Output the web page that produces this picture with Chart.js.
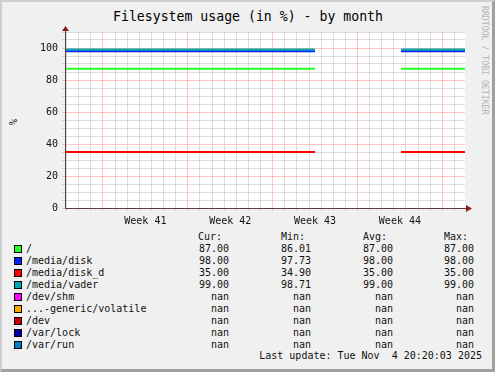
<!DOCTYPE html>
<html>
<head>
<meta charset="utf-8">
<script src="https://cdn.jsdelivr.net/npm/chart.js@4"></script>
<style>
  html, body { margin: 0; padding: 0; background: #f0f0f0; }
  #stage { position: absolute; left: 0; top: 0; width: 495px; height: 372px; overflow: hidden; }
  #frame { position: absolute; left: 0; top: 0; width: 495px; height: 372px; box-sizing: border-box;
           border-left: 2px solid #cfcfcf; border-top: 2px solid #cfcfcf;
           border-right: 3px solid #a0a0a0; border-bottom: 3px solid #a0a0a0; }
  #chartBox { position: absolute; left: 0; top: 0; width: 495px; height: 230px; }
  .t { position: absolute; font-family: "DejaVu Sans Mono", monospace; font-size: 10px; line-height: 12px;
       color: #111; white-space: pre; }
  .r { text-align: right; }
  .sw { position: absolute; width: 6px; height: 6px; border: 1px solid #000; }
  #title { position: absolute; left: 0; width: 496px; top: 9px; text-align: center;
           font-family: "DejaVu Sans Mono", monospace; font-size: 13.2px; line-height: 16px; color: #000; }
  #vendor { position: absolute; left: 485px; top: 6px; transform-origin: 0 0; transform: rotate(90deg) translate(0, -4px);
            font-family: "DejaVu Sans Mono", monospace; font-size: 8.2px; line-height: 8px; color: #b4b4b4; white-space: pre; }
  #unit { position: absolute; left: 9px; top: 125px; transform-origin: 0 0; transform: rotate(-90deg);
          font-family: "DejaVu Sans Mono", monospace; font-size: 10px; line-height: 10px; color: #111; }
</style>
</head>
<body>
<div id="stage">
  <div id="frame"></div>
  <div id="title">Filesystem usage (in %) - by month</div>
  <div id="vendor">RRDTOOL / TOBI OETIKER</div>
  <div id="unit">%</div>
  <div id="chartBox"><canvas id="fsChart" width="495" height="230"></canvas></div>
  <div id="legend"></div>
</div>
<script>
// x positions in days from the left edge of the graph
const dayPoints = [0, 20.63, 24, 27.72, 33];
const rootPct = [87, 87, null, 87, 87];
const mediaDiskPct = [98, 98, null, 98, 98];
const mediaDiskDPct = [35, 35, null, 35, 35];
const mediaVaderPct = [99, 99, null, 99, 99];
const emptyPct = [null, null, null, null, null];

const weekLabels = ['Week 41', 'Week 42', 'Week 43', 'Week 44'];
const weekCenters = [6.63, 13.63, 20.63, 27.63];
const firstWeekStart = 3.13;

const seriesNames = ['/', '/media/disk', '/media/disk_d', '/media/vader', '/dev/shm',
                     '...-generic/volatile', '/dev', '/var/lock', '/var/run'];
const seriesColors = ['#22ff22', '#0022ff', '#ff0000', '#00aaaa', '#ff00ff',
                      '#ffa500', '#cc0000', '#0000aa', '#0080c0'];
const seriesData = [rootPct, mediaDiskPct, mediaDiskDPct, mediaVaderPct,
                    emptyPct, emptyPct, emptyPct, emptyPct, emptyPct];
const curVals = [87.00, 98.00, 35.00, 99.00, NaN, NaN, NaN, NaN, NaN];
const minVals = [86.01, 97.73, 34.90, 98.71, NaN, NaN, NaN, NaN, NaN];
const avgVals = [87.00, 98.00, 35.00, 99.00, NaN, NaN, NaN, NaN, NaN];
const maxVals = [87.00, 98.00, 35.00, 99.00, NaN, NaN, NaN, NaN, NaN];
const lastUpdate = 'Last update: Tue Nov  4 20:20:03 2025';

const axisColor = '#5a3c3c';
const arrowColor = '#8b1a1a';
const majorGrid = 'rgba(255, 100, 100, 0.38)';
const minorGrid = 'rgba(150, 150, 150, 0.32)';
const monoFont = { family: 'DejaVu Sans Mono', size: 10 };

// draw the axis extensions and arrow heads
const axisArrows = {
    id: 'axisArrows',
    afterDraw(chart) {
        const ctx = chart.ctx;
        const a = chart.chartArea;
        ctx.save();
        ctx.strokeStyle = axisColor;
        ctx.lineWidth = 1;
        ctx.beginPath();
        ctx.moveTo(a.left, a.bottom + 0.5);
        ctx.lineTo(a.right + 2, a.bottom + 0.5);
        ctx.moveTo(a.left + 0.5, a.bottom);
        ctx.lineTo(a.left + 0.5, a.top - 2);
        ctx.stroke();
        ctx.fillStyle = arrowColor;
        ctx.beginPath();
        ctx.moveTo(a.right + 1, a.bottom - 3);
        ctx.lineTo(a.right + 7, a.bottom + 0.5);
        ctx.lineTo(a.right + 1, a.bottom + 4);
        ctx.fill();
        ctx.beginPath();
        ctx.moveTo(a.left - 3, a.top - 1);
        ctx.lineTo(a.left + 0.5, a.top - 6);
        ctx.lineTo(a.left + 4, a.top - 1);
        ctx.fill();
        ctx.restore();
    }
};

const plotBackground = {
    id: 'plotBackground',
    beforeDraw(chart) {
        const ctx = chart.ctx;
        const a = chart.chartArea;
        ctx.save();
        ctx.fillStyle = '#ffffff';
        ctx.fillRect(a.left, a.top, a.right - a.left, a.bottom - a.top);
        ctx.restore();
    }
};

const datasets = seriesNames.map((name, i) => ({
    label: name,
    data: dayPoints.map((d, k) => ({ x: d, y: seriesData[i][k] })),
    borderColor: seriesColors[i],
    backgroundColor: seriesColors[i],
    borderWidth: 2,
    pointRadius: 0,
    spanGaps: false,
    order: seriesNames.length - i
}));

const fsChart = new Chart(document.getElementById('fsChart').getContext('2d'), {
    type: 'line',
    data: { datasets: datasets },
    plugins: [plotBackground, axisArrows],
    options: {
        responsive: false,
        animation: false,
        devicePixelRatio: 1,
        layout: { padding: { left: 0, right: 30, top: 32, bottom: 0 } },
        plugins: { legend: { display: false }, tooltip: { enabled: false } },
        scales: {
            x: {
                type: 'linear',
                position: 'bottom',
                min: 0,
                max: 33,
                afterBuildTicks: scale => {
                    const ticks = [];
                    for (let d = firstWeekStart % 1; d < 33; d += 1) ticks.push({ value: d });
                    scale.ticks = ticks;
                },
                afterFit: scale => { scale.height = 0; },
                ticks: { display: false },
                border: { display: false },
                grid: {
                    tickLength: 3,
                    color: ctx => {
                        const w = (ctx.tick.value - firstWeekStart) / 7;
                        return Math.abs(w - Math.round(w)) < 0.01 ? majorGrid : minorGrid;
                    }
                }
            },
            x2: {
                type: 'linear',
                position: 'bottom',
                min: 0,
                max: 33,
                afterBuildTicks: scale => {
                    scale.ticks = weekCenters.map(v => ({ value: v }));
                },
                afterFit: scale => { scale.height = 22; },
                grid: { display: false, drawTicks: false },
                border: { display: false },
                ticks: {
                    padding: 7,
                    maxRotation: 0,
                    autoSkip: false,
                    color: '#111',
                    font: monoFont,
                    callback: (v, i) => weekLabels[i]
                }
            },
            y: {
                min: 0,
                max: 110,
                afterFit: scale => { scale.width = 65; },
                border: { display: false },
                grid: {
                    tickLength: 3,
                    color: ctx => (ctx.tick.value % 20 === 0 ? majorGrid : minorGrid)
                },
                ticks: {
                    stepSize: 5,
                    padding: 4,
                    autoSkip: false,
                    color: '#111',
                    font: monoFont,
                    callback: v => (v % 20 === 0 && v <= 100 ? String(v) : '')
                }
            }
        }
    }
});

// legend table under the graph
function fmt(v) {
    return isNaN(v) ? 'nan' : v.toFixed(2);
}
function addText(text, left, right, centerY) {
    const el = document.createElement('div');
    el.className = 't' + (right !== null ? ' r' : '');
    el.textContent = text;
    el.style.top = (centerY - 6) + 'px';
    if (right !== null) el.style.right = (495 - right) + 'px';
    else el.style.left = left + 'px';
    document.getElementById('legend').appendChild(el);
}
const headerY = 237.3;
const rowY = 249.3;
const rowStep = 11.95;
addText('Cur:', null, 222, headerY);
addText('Min:', null, 305, headerY);
addText('Avg:', null, 387, headerY);
addText('Max:', null, 468, headerY);
seriesNames.forEach((name, i) => {
    const cy = rowY + i * rowStep;
    const sw = document.createElement('div');
    sw.className = 'sw';
    sw.style.left = '14px';
    sw.style.top = Math.round(cy - 4) + 'px';
    sw.style.background = seriesColors[i];
    document.getElementById('legend').appendChild(sw);
    addText(name, 26, null, cy);
    addText(fmt(curVals[i]), null, 229, cy);
    addText(fmt(minVals[i]), null, 311, cy);
    addText(fmt(avgVals[i]), null, 393, cy);
    addText(fmt(maxVals[i]), null, 474, cy);
});
addText(lastUpdate, null, 482, 356.2);
</script>
</body>
</html>
